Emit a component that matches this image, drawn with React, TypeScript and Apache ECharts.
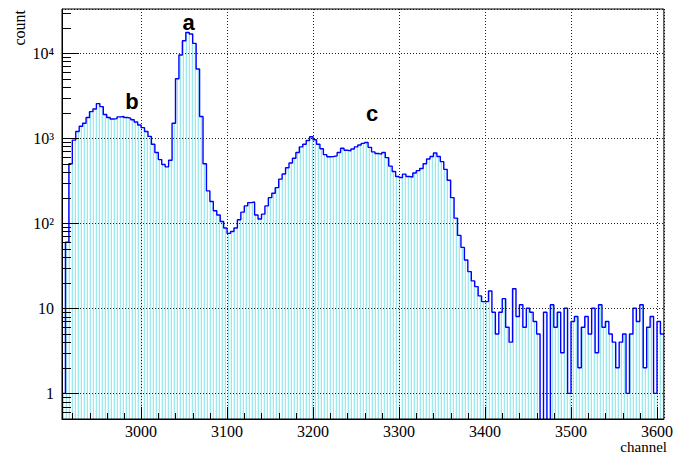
import React, { useEffect, useRef } from 'react';
import * as echarts from 'echarts';

// Histogram: 4-channel bins starting at channel 2908
const binStart = 2908;
const binWidth = 4;
const counts = [
  1, 60, 500, 950, 1200, 1380, 1500, 1750, 2050, 2200,
  2550, 2350, 1900, 1750, 1680, 1700, 1780, 1800, 1750, 1720,
  1650, 1550, 1430, 1330, 1200, 1050, 850, 680, 560, 490,
  460, 550, 1500, 5000, 9500, 14000, 17500, 16800, 13000, 6500,
  1800, 500, 240, 180, 140, 125, 105, 88, 76, 80,
  88, 110, 135, 160, 175, 178, 125, 112, 128, 160,
  200, 225, 262, 330, 380, 450, 510, 580, 680, 790,
  850, 940, 1040, 960, 850, 750, 640, 605, 610, 620,
  680, 760, 720, 710, 745, 790, 830, 870, 890, 780,
  690, 660, 650, 680, 590, 470, 405, 355, 345, 378,
  355, 350, 390, 415, 440, 500, 570, 610, 670, 610,
  530, 430, 320, 200, 115, 72, 52, 37, 27, 21,
  18, 14, 12, 12, 16, 9, 5, 9, 13, 6,
  4, 17, 8, 11, 6, 10, 9, 7, 5, 0,
  9, 0, 11, 6, 9, 3, 10, 1, 7, 8,
  2, 6, 8, 5, 10, 3, 11, 6, 7, 5,
  4, 2, 4, 5, 1, 5, 10, 7, 11, 2,
  6, 8, 1, 7, 5,
];

const xMin = 2908;
const xMax = 3608;
const yMin = 0.5;
const yMax = 33000;

const yMajorLabels = ['1', '10', '10²', '10³', '10⁴'];

const xMinorTicks = [
  2920, 2940, 2960, 2980,
  3020, 3040, 3060, 3080,
  3120, 3140, 3160, 3180,
  3220, 3240, 3260, 3280,
  3320, 3340, 3360, 3380,
  3420, 3440, 3460, 3480,
  3520, 3540, 3560, 3580,
];

const yMinorTicks = [
  0.6, 0.7, 0.8, 0.9,
  2, 3, 4, 5, 6, 7, 8, 9,
  20, 30, 40, 50, 60, 70, 80, 90,
  200, 300, 400, 500, 600, 700, 800, 900,
  2000, 3000, 4000, 5000, 6000, 7000, 8000, 9000,
  20000, 30000,
];

const peakLabels = ['a', 'b', 'c'];

export default function App() {
  const ref = useRef<HTMLDivElement>(null);

  useEffect(() => {
    if (!ref.current) return;
    const chart = echarts.init(ref.current, undefined, { renderer: 'svg' });

    const cv = document.createElement('canvas');
    cv.width = 3;
    cv.height = 2;
    const ctx = cv.getContext('2d')!;
    ctx.fillStyle = '#ffffff';
    ctx.fillRect(0, 0, 3, 2);
    ctx.fillStyle = '#9be8ee';
    ctx.fillRect(0, 0, 1, 2);
    ctx.fillStyle = '#e2f8f9';
    ctx.fillRect(2, 0, 1, 2);

    const lineData: number[][] = counts.map((c, i) => [binStart + i * binWidth, c > 0 ? c : 0.1]);
    const last = counts[counts.length - 1];
    lineData.push([binStart + counts.length * binWidth, last > 0 ? last : 0.1]);

    const serif = 'Liberation Serif, Times New Roman, serif';
    const gridLine = { show: true, lineStyle: { color: '#222', type: [1, 2], width: 1 } };

    const option: any = {
      animation: false,
      backgroundColor: '#ffffff',
      grid: {
        left: 62, right: 9, top: 9, bottom: 35,
        show: true, borderColor: '#000', borderWidth: 1,
        backgroundColor: 'transparent', z: 5,
      },
      xAxis: {
        type: 'value', min: xMin, max: xMax, splitNumber: 7, z: 3,
        axisLine: { show: true, onZero: false, lineStyle: { color: '#000', width: 1 } },
        axisTick: { show: true, inside: true, length: 12, lineStyle: { color: '#000', width: 1 } },
        axisLabel: {
          show: true, margin: 4, color: '#000', fontFamily: serif, fontSize: 16,
          showMinLabel: false, showMaxLabel: false,
          formatter: (v: number) => (Math.round(v) % 100 === 0 ? String(Math.round(v)) : ''),
        },
        splitLine: gridLine,
      },
      yAxis: {
        type: 'log', logBase: 10, min: yMin, max: yMax, z: 3,
        axisLine: { show: true, onZero: false, lineStyle: { color: '#000', width: 1 } },
        axisTick: { show: true, inside: true, length: 17, lineStyle: { color: '#000', width: 1 } },
        axisLabel: {
          show: true, margin: 8, color: '#000', fontFamily: serif, fontSize: 16,
          showMinLabel: false, showMaxLabel: false,
          formatter: (v: number) => {
            const e = Math.log10(v);
            const r = Math.round(e);
            if (Math.abs(e - r) > 1e-6 || r < 0 || r >= yMajorLabels.length) return '';
            return yMajorLabels[r];
          },
        },
        splitLine: gridLine,
      },
      series: [
        {
          type: 'line',
          step: 'end',
          data: lineData,
          symbol: 'none',
          showSymbol: false,
          z: 2,
          lineStyle: { color: '#0000ff', width: 1.4 },
          areaStyle: { color: { image: cv, repeat: 'repeat' }, opacity: 1, origin: 'start' },
          clip: true,
          silent: true,
        },
        {
          type: 'custom',
          data: xMinorTicks.map((v) => [v, 1]),
          encode: { x: 0, y: 1 },
          clip: false,
          silent: true,
          z: 6,
          renderItem: (params: any, api: any) => {
            const cs = params.coordSys;
            const px = Math.round(api.coord([api.value(0), 1])[0]) + 0.5;
            const yb = cs.y + cs.height;
            return {
              type: 'line',
              shape: { x1: px, y1: yb, x2: px, y2: yb - 6 },
              style: { stroke: '#000', lineWidth: 1 },
            };
          },
        },
        {
          type: 'custom',
          data: yMinorTicks.map((v) => [xMin, v]),
          encode: { x: 0, y: 1 },
          clip: false,
          silent: true,
          z: 6,
          renderItem: (params: any, api: any) => {
            const cs = params.coordSys;
            const py = Math.round(api.coord([xMin, api.value(1)])[1]) + 0.5;
            return {
              type: 'line',
              shape: { x1: cs.x, y1: py, x2: cs.x + 9, y2: py },
              style: { stroke: '#000', lineWidth: 1 },
            };
          },
        },
      ],
      graphic: [
        {
          type: 'text', x: 667, y: 446.5, z: 10,
          style: { text: 'channel', font: `15px ${serif}`, fill: '#000', align: 'right', verticalAlign: 'middle' },
        },
        {
          type: 'text', x: 19.5, y: 10, rotation: Math.PI / 2, z: 10,
          style: { text: 'count', font: `16px ${serif}`, fill: '#000', align: 'right', verticalAlign: 'middle' },
        },
        {
          type: 'text', x: 188.5, y: 22.3, z: 10,
          style: { text: peakLabels[0], font: 'bold 22px Liberation Sans, Arial, sans-serif', fill: '#000', align: 'center', verticalAlign: 'middle' },
        },
        {
          type: 'text', x: 132, y: 101.3, z: 10,
          style: { text: peakLabels[1], font: 'bold 22px Liberation Sans, Arial, sans-serif', fill: '#000', align: 'center', verticalAlign: 'middle' },
        },
        {
          type: 'text', x: 372, y: 113, z: 10,
          style: { text: peakLabels[2], font: 'bold 22px Liberation Sans, Arial, sans-serif', fill: '#000', align: 'center', verticalAlign: 'middle' },
        },
      ],
    };

    chart.setOption(option);
    return () => chart.dispose();
  }, []);

  return (
    <div
      ref={ref}
      style={{ position: 'absolute', left: 0, top: 0, width: 676, height: 454, background: '#fff' }}
    />
  );
}
